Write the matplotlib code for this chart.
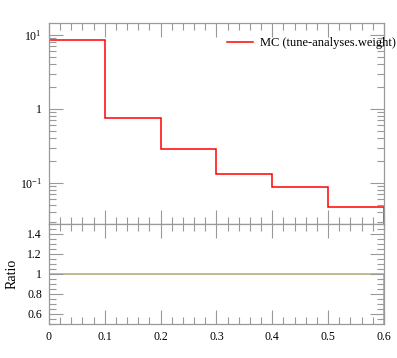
import numpy as np
import matplotlib
matplotlib.use("Agg")
import matplotlib.pyplot as plt
from matplotlib.ticker import FixedLocator, MultipleLocator, FuncFormatter, LogLocator, NullFormatter

plt.rcParams['font.family'] = ['Liberation Serif', 'DejaVu Serif']
plt.rcParams['mathtext.fontset'] = 'custom'
plt.rcParams['mathtext.rm'] = 'Liberation Serif'
plt.rcParams['mathtext.it'] = 'Liberation Serif:italic'

bin_edges = [0.0, 0.1, 0.2, 0.3, 0.4, 0.5, 0.6]
mc_values = [8.5, 0.76, 0.288, 0.131, 0.0875, 0.0474]
ratio_values = [1.0, 1.0, 1.0, 1.0, 1.0, 1.0]
legend_label = "MC (tune-analyses.weight)"

tick_col = '#999999'

fig = plt.figure(figsize=(3.97, 3.58), dpi=100)
ax = fig.add_axes([0.1234, 0.3743, 0.8438, 0.5615])
rax = fig.add_axes([0.1234, 0.0950, 0.8438, 0.2793], sharex=ax)

ax.stairs(mc_values, bin_edges, color='red', linewidth=1.1, label=legend_label)
ax.set_yscale('log')
ax.set_ylim(0.0279, 14.5)
ax.set_xlim(0, 0.6)

def log_fmt(v, pos):
    if abs(v - 1) < 1e-9:
        return '1'
    e = int(round(np.log10(v)))
    return r'$10^{%d}$' % e

ax.yaxis.set_major_locator(LogLocator(base=10))
ax.yaxis.set_major_formatter(FuncFormatter(log_fmt))
ax.yaxis.set_minor_locator(LogLocator(base=10, subs=np.arange(2, 10)))
ax.yaxis.set_minor_formatter(NullFormatter())
ax.tick_params(axis='x', labelbottom=False)

leg = ax.legend(loc='center left', bbox_to_anchor=(0.531, 0.90), frameon=False,
                borderpad=0, borderaxespad=0, handlelength=2.1, handletextpad=0.55,
                fontsize=9)

rax.stairs(ratio_values, bin_edges, color='#aaaa70', linewidth=1.1)
rax.set_ylim(0.5, 1.5)
rax.yaxis.set_major_locator(FixedLocator([0.6, 0.8, 1.0, 1.2, 1.4]))
rax.yaxis.set_minor_locator(MultipleLocator(0.05))
rax.yaxis.set_major_formatter(FuncFormatter(lambda v, p: '%g' % v))
rax.set_ylabel('Ratio', fontsize=10, labelpad=6)

for a in (ax, rax):
    a.xaxis.set_major_locator(MultipleLocator(0.1))
    a.xaxis.set_minor_locator(MultipleLocator(0.02))
    a.tick_params(which='both', direction='in', top=True, right=True,
                  color=tick_col, labelsize=8.5, pad=5)
    a.tick_params(which='major', length=10, width=0.8)
    a.tick_params(which='minor', length=5, width=0.8)
    for s in a.spines.values():
        s.set_color(tick_col)
        s.set_linewidth(0.9)

rax.xaxis.set_major_formatter(FuncFormatter(lambda v, p: '%g' % round(v, 2)))

fig.savefig('out.png', dpi=100)
